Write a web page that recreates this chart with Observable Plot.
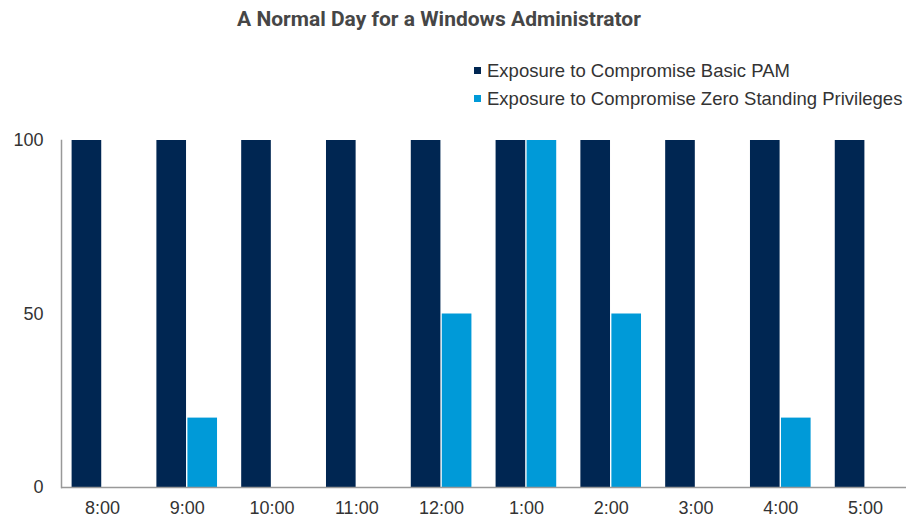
<!DOCTYPE html>
<html>
<head>
<meta charset="utf-8">
<script src="https://cdn.jsdelivr.net/npm/d3@7"></script>
<script src="https://cdn.jsdelivr.net/npm/@observablehq/plot@0.6"></script>
<style>
  html, body { margin: 0; padding: 0; background: #fff; }
  #wrap { position: relative; width: 906px; height: 518px; overflow: hidden; font-family: "Liberation Sans", Arial, sans-serif; }
  #title { position: absolute; left: 0; width: 878px; top: 7px; text-align: center; font-family: Roboto, sans-serif; font-weight: 700; font-size: 21px; color: #464646; }
  #legend { position: absolute; left: 474px; top: 57px; font-size: 18.5px; color: #333; line-height: 28px; white-space: nowrap; }
  #legend .sw { display: inline-block; width: 7px; height: 7px; margin-right: 6px; vertical-align: middle; position: relative; top: -2px; }
  #chart { position: absolute; left: 0; top: 120px; }
</style>
</head>
<body>
<div id="wrap">
  <div id="title"></div>
  <div id="legend"></div>
  <div id="chart"></div>
</div>
<script>
const title = "A Normal Day for a Windows Administrator";
const times = ["8:00", "9:00", "10:00", "11:00", "12:00", "1:00", "2:00", "3:00", "4:00", "5:00"];
const seriesNames = ["Exposure to Compromise Basic PAM", "Exposure to Compromise Zero Standing Privileges"];
const basicPAM = [100, 100, 100, 100, 100, 100, 100, 100, 100, 100];
const zeroStanding = [0, 20, 0, 0, 50, 100, 50, 0, 20, 0];
const yTicks = [0, 50, 100];
const colors = ["#002652", "#009ad8"];

document.getElementById("title").textContent = title;
const legend = document.getElementById("legend");
seriesNames.forEach((n, i) => {
  const row = document.createElement("div");
  row.innerHTML = `<span class="sw" style="background:${colors[i]}"></span>${n}`;
  legend.appendChild(row);
});

const basicData = times.map((t, i) => ({time: t, value: basicPAM[i]}));
const zeroData = times.map((t, i) => ({time: t, value: zeroStanding[i]}));

const chart = Plot.plot({
  width: 906,
  height: 398,
  marginLeft: 61,
  marginRight: 0,
  marginTop: 20,
  marginBottom: 31,
  style: { fontFamily: "'Liberation Sans', Arial, sans-serif", fontSize: "18px", color: "#333", background: "transparent" },
  x: { domain: times, round: false, padding: 0.285, paddingOuter: 0.125, label: null, tickSize: 0, tickPadding: 14 },
  y: { domain: [0, 100], ticks: yTicks, label: null, tickSize: 0, tickPadding: 18 },
  marks: [
    Plot.barY(basicData, { x: "time", y: "value", fill: colors[0], insetRight: 31 }),
    Plot.barY(zeroData.filter(d => d.value > 0), { x: "time", y: "value", fill: colors[1], insetLeft: 31 }),
    Plot.ruleY([0], { stroke: "#999", strokeWidth: 1.5 }),
    Plot.axisX({ tickSize: 0, tickPadding: 14, label: null, fontSize: 18 }),
    Plot.axisY({ ticks: yTicks, tickSize: 0, tickPadding: 18, label: null, fontSize: 18 }),
    Plot.frame({ anchor: "left", stroke: "#999", strokeWidth: 1.5 })
  ]
});
document.getElementById("chart").appendChild(chart);
</script>
</body>
</html>
